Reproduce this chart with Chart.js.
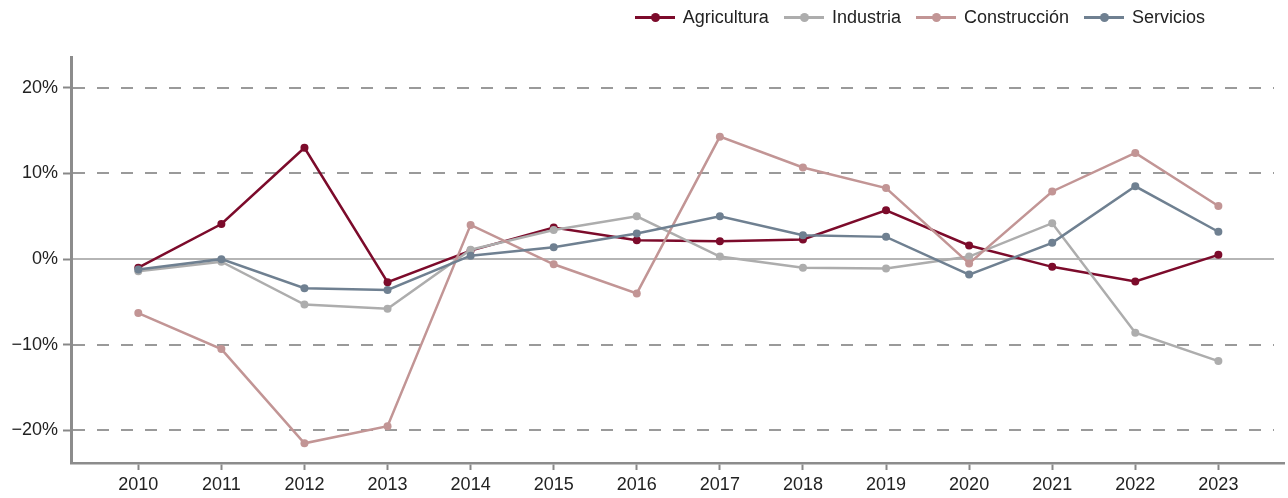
<!DOCTYPE html>
<html lang="es">
<head>
<meta charset="utf-8">
<title>Variación por sector</title>
<script src="https://cdn.jsdelivr.net/npm/chart.js@4/dist/chart.umd.min.js"></script>
<style>
  body { margin: 0; background: #fff; font-family: "Liberation Sans", Arial, sans-serif; }
  #wrap { position: relative; width: 1288px; height: 498px; }
  #legend { position: absolute; top: 7px; right: 83px; display: flex; gap: 15px; font-size: 18px; color: #222; }
  .item { display: flex; align-items: center; gap: 8px; }
  .swatch { position: relative; width: 40px; height: 3px; }
  .swatch i { position: absolute; left: 16px; top: -3px; width: 9px; height: 9px; border-radius: 50%; }
</style>
</head>
<body>
<div id="wrap">
  <canvas id="chart" width="1288" height="498"></canvas>
  <div id="legend"></div>
</div>
<script>
const years = [2010, 2011, 2012, 2013, 2014, 2015, 2016, 2017, 2018, 2019, 2020, 2021, 2022, 2023];
const yTicks = [-20, -10, 0, 10, 20];

const agricultura = [-1.0, 4.1, 13.0, -2.7, 1.0, 3.7, 2.2, 2.1, 2.3, 5.7, 1.6, -0.9, -2.6, 0.5];
const industria = [-1.4, -0.3, -5.3, -5.8, 1.1, 3.4, 5.0, 0.3, -1.0, -1.1, 0.3, 4.2, -8.6, -11.9];
const construccion = [-6.3, -10.5, -21.5, -19.5, 4.0, -0.6, -4.0, 14.3, 10.7, 8.3, -0.5, 7.9, 12.4, 6.2];
const servicios = [-1.2, 0.0, -3.4, -3.6, 0.4, 1.4, 3.0, 5.0, 2.8, 2.6, -1.8, 1.9, 8.5, 3.2];

const series = [
    { label: 'Agricultura', data: agricultura, color: '#7c0b2b', order: 4 },
    { label: 'Industria', data: industria, color: '#adadad', order: 3 },
    { label: 'Construcción', data: construccion, color: '#c29595', order: 2 },
    { label: 'Servicios', data: servicios, color: '#6f8091', order: 1 },
];

// líneas horizontales: discontinuas en ±10/±20, continua en 0
const gridPlugin = {
    id: 'hgrid',
    beforeDatasetsDraw(chart) {
        const { ctx, chartArea, scales } = chart;
        ctx.save();
        yTicks.forEach(v => {
            const y = Math.round(scales.y.getPixelForValue(v));
            ctx.beginPath();
            if (v === 0) {
                ctx.setLineDash([]);
                ctx.strokeStyle = '#b5b5b5';
            } else {
                ctx.setLineDash([12, 12]);
                ctx.strokeStyle = '#9a9a9a';
            }
            ctx.lineWidth = 2;
            ctx.moveTo(chartArea.left + 2, y);
            ctx.lineTo(chartArea.right - 10, y);
            ctx.stroke();
        });
        ctx.restore();
    }
};

const ctx = document.getElementById('chart').getContext('2d');
const chart = new Chart(ctx, {
    type: 'line',
    data: {
        datasets: series.map(s => ({
            label: s.label,
            data: s.data.map((v, i) => ({ x: years[i], y: v })),
            borderColor: s.color,
            backgroundColor: s.color,
            pointBackgroundColor: s.color,
            pointBorderWidth: 0,
            pointRadius: 4,
            borderWidth: 2.5,
            tension: 0,
            order: s.order
        }))
    },
    options: {
        responsive: false,
        animation: false,
        layout: { padding: { top: 57, right: 3, left: 0, bottom: 0 } },
        plugins: { legend: { display: false }, tooltip: { enabled: false } },
        scales: {
            x: {
                type: 'linear',
                min: 2009.19,
                max: 2023.79,
                afterBuildTicks: s => { s.ticks = years.map(v => ({ value: v })); },
                afterFit: s => { s.height = 35; },
                grid: { drawOnChartArea: false, tickLength: 7, tickColor: '#888', tickWidth: 2 },
                border: { color: '#8c8c8c', width: 2.5 },
                ticks: {
                    padding: 4,
                    color: '#222',
                    font: { family: '"Liberation Sans", Arial, sans-serif', size: 18 },
                    callback: v => String(v),
                    maxRotation: 0,
                    autoSkip: false
                }
            },
            y: {
                min: -23.8,
                max: 23.6,
                afterBuildTicks: s => { s.ticks = yTicks.map(v => ({ value: v })); },
                afterFit: s => { s.width = 71; },
                grid: { drawOnChartArea: false, tickLength: 8, tickColor: '#888', tickWidth: 2 },
                border: { color: '#8c8c8c', width: 3 },
                ticks: {
                    padding: 5,
                    color: '#222',
                    font: { family: '"Liberation Sans", Arial, sans-serif', size: 18 },
                    callback: v => (v < 0 ? '\u2212' + Math.abs(v) : v) + '%'
                }
            }
        }
    },
    plugins: [gridPlugin]
});

// leyenda con línea y punto, a partir de las series
const legend = document.getElementById('legend');
series.forEach(s => {
    const item = document.createElement('div');
    item.className = 'item';
    item.innerHTML = `<span class="swatch" style="background:${s.color}"><i style="background:${s.color}"></i></span><span>${s.label}</span>`;
    legend.appendChild(item);
});
</script>
</body>
</html>
